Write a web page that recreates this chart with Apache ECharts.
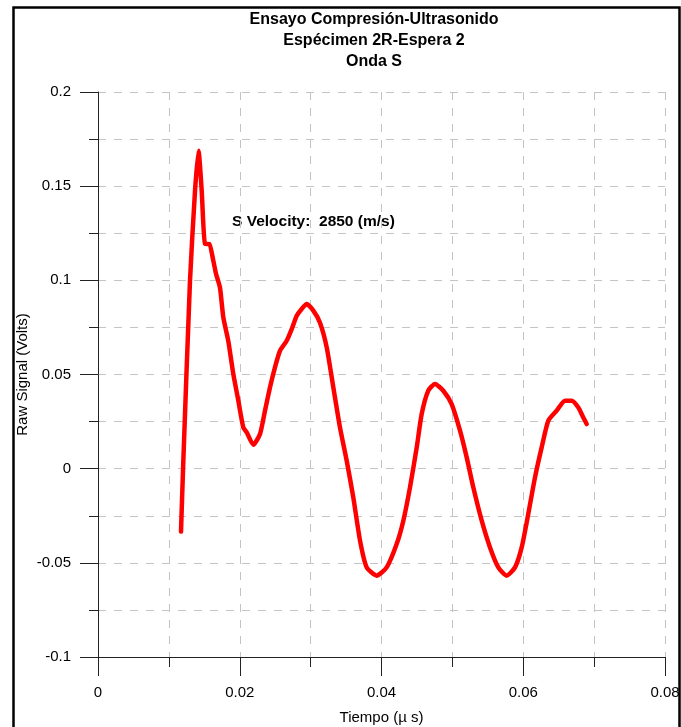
<!DOCTYPE html>
<html>
<head>
<meta charset="utf-8">
<script src="https://cdn.jsdelivr.net/npm/echarts@6/dist/echarts.min.js"></script>
<style>
html,body{margin:0;padding:0;background:#fff;}
#chart{width:681px;height:727px;}
</style>
</head>
<body>
<div id="chart"></div>
<script>
var titleLines = ['Ensayo Compresión-Ultrasonido', 'Espécimen 2R-Espera 2', 'Onda S'];
var xAxisName = 'Tiempo (µ s)';
var yAxisName = 'Raw Signal (Volts)';
var annotation = 'S Velocity:  2850 (m/s)';

var timeValues = [0.01171,0.01204,0.01298,0.01369,0.01418,0.01463,0.01510,0.01570,0.01627,0.01665,
  0.01721,0.01768,0.01838,0.01909,0.01980,0.02050,0.02098,0.02191,0.02286,0.02356,
  0.02427,0.02497,0.02568,0.02662,0.02733,0.02804,0.02874,0.02945,0.03038,0.03132,
  0.03227,0.03320,0.03414,0.03509,0.03602,0.03697,0.03791,0.03932,0.04073,0.04214,
  0.04308,0.04402,0.04497,0.04567,0.04660,0.04755,0.04872,0.04990,0.05108,0.05202,
  0.05295,0.05414,0.05531,0.05648,0.05766,0.05884,0.05978,0.06071,0.06166,0.06260,
  0.06354,0.06472,0.06589,0.06684,0.06777,0.06847,0.06895];
var signalValues = [-0.0334,0.0042,0.0998,0.1476,0.1688,0.1476,0.1194,0.1193,0.1104,0.1035,
  0.0961,0.0803,0.0679,0.0503,0.0361,0.0219,0.0193,0.0127,0.0184,0.0308,
  0.0432,0.0538,0.0626,0.0679,0.0741,0.0812,0.0848,0.0874,0.0839,0.0775,
  0.0644,0.0432,0.0219,0.0042,-0.0152,-0.0382,-0.0524,-0.0568,-0.0524,-0.0400,
  -0.0276,-0.0099,0.0113,0.0290,0.0414,0.0450,0.0414,0.0343,0.0202,0.0060,
  -0.0099,-0.0276,-0.0418,-0.0524,-0.0568,-0.0524,-0.0418,-0.0240,-0.0046,0.0113,
  0.0255,0.0308,0.0361,0.0361,0.0325,0.0272,0.0237];

var xTickValues = [0, 0.02, 0.04, 0.06, 0.08];
var yTickValues = [-0.1, -0.05, 0, 0.05, 0.1, 0.15, 0.2];

var data = timeValues.map(function (t, i) { return [t, signalValues[i]]; });

var chart = echarts.init(document.getElementById('chart'));
var FONT = '"Liberation Sans", Arial, sans-serif';
var gridDash = { color: '#c4c4c4', width: 1, type: [8, 8] };

chart.setOption({
  animation: false,
  backgroundColor: '#fff',
  textStyle: { fontFamily: FONT },
  title: {
    text: titleLines.join('\n'),
    left: 369, top: 4, textAlign: 'center',
    textStyle: { fontSize: 16, fontWeight: 'bold', color: '#000', lineHeight: 21, fontFamily: FONT }
  },
  grid: { left: 98, right: 16, top: 92, bottom: 70, containLabel: false, outerBoundsMode: 'none' },
  xAxis: {
    type: 'value', min: xTickValues[0], max: xTickValues[xTickValues.length - 1], interval: 0.02,
    name: xAxisName, nameLocation: 'middle', nameGap: 53, nameMoveOverlap: false,
    nameTextStyle: { fontSize: 15, color: '#000', fontFamily: FONT },
    axisLine: { show: true, onZero: false, lineStyle: { color: '#222', width: 1 } },
    axisTick: { show: true, inside: false, length: 19, lineStyle: { color: '#222' } },
    minorTick: { show: true, splitNumber: 2, length: 10, lineStyle: { color: '#222' } },
    axisLabel: { margin: 28, fontSize: 15, color: '#000', fontFamily: FONT,
      formatter: function (v) { return String(Math.round(v * 100) / 100); } },
    splitLine: { show: true, lineStyle: gridDash },
    minorSplitLine: { show: true, lineStyle: gridDash }
  },
  yAxis: {
    type: 'value', min: yTickValues[0], max: yTickValues[yTickValues.length - 1], interval: 0.05,
    name: yAxisName, nameLocation: 'middle', nameGap: 68, nameRotate: 90, nameMoveOverlap: false,
    nameTextStyle: { fontSize: 15, color: '#000', fontFamily: FONT },
    axisLine: { show: true, onZero: false, lineStyle: { color: '#222', width: 1 } },
    axisTick: { show: true, inside: false, length: 18, lineStyle: { color: '#222' } },
    minorTick: { show: true, splitNumber: 2, length: 9, lineStyle: { color: '#222' } },
    axisLabel: { margin: 27, fontSize: 15, color: '#000', fontFamily: FONT,
      formatter: function (v) { return String(Math.round(v * 1000) / 1000); } },
    splitLine: { show: true, lineStyle: gridDash },
    minorSplitLine: { show: true, lineStyle: gridDash }
  },
  graphic: [
    { type: 'rect', left: 11, top: 5, silent: true, z: 100,
      shape: { width: 666, height: 740 },
      style: { fill: 'none', stroke: '#000', lineWidth: 2.5 } },
    { type: 'text', left: 232, top: 214, silent: true,
      style: { text: annotation, fontSize: 15.5, fontWeight: 'bold', fill: '#000', fontFamily: FONT } }
  ],
  series: [{
    type: 'line', data: data, showSymbol: false, smooth: 0.2,
    lineStyle: { color: '#ff0000', width: 4.5, cap: 'round', join: 'round' },
    itemStyle: { color: '#ff0000' }
  }]
});
</script>
</body>
</html>
